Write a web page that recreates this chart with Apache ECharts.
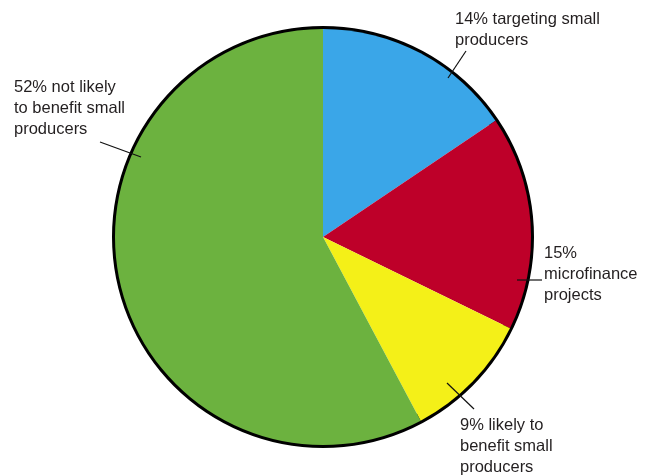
<!DOCTYPE html>
<html>
<head>
<meta charset="utf-8">
<script src="https://cdn.jsdelivr.net/npm/echarts@6/dist/echarts.min.js"></script>
<style>
  html, body { margin: 0; padding: 0; background: #fff; }
  #chart { width: 649px; height: 475px; }
</style>
</head>
<body>
<div id="chart"></div>
<script>
// Share of funding by project type (percent)
const categories = [
  '14% targeting small\nproducers',
  '15%\nmicrofinance\nprojects',
  '9% likely to\nbenefit small\nproducers',
  '52% not likely\nto benefit small\nproducers'
];
const values = [14, 15, 9, 52];
const colors = ['#3aa6e8', '#be0029', '#f4f018', '#6cb23f'];

// Label placement: text block top-left and leader line ends
const labelPlacement = [
  { x: 455, y: 9,   line: [[448, 78], [466, 51]] },
  { x: 544, y: 243, line: [[517, 280], [542, 280]] },
  { x: 460, y: 415, line: [[447, 383], [474, 409]] },
  { x: 14,  y: 77,  line: [[100, 142], [141, 157]] }
];

const chart = echarts.init(document.getElementById('chart'), null, { renderer: 'canvas' });

const CENTER = [323, 237];

const fillData = categories.map((name, i) => ({
  name: name,
  value: values[i],
  itemStyle: { color: colors[i] }
}));
const labelData = categories.map((name, i) => ({
  name: name,
  value: values[i]
}));

chart.setOption({
  animation: false,
  series: [
    {
      // outer black rim, drawn beneath the slices
      type: 'pie',
      z: 1,
      center: CENTER,
      radius: [200, 211],
      silent: true,
      data: [{ value: 1, itemStyle: { color: '#000' } }],
      label: { show: false },
      labelLine: { show: false },
      emphasis: { disabled: true }
    },
    {
      // coloured slices
      type: 'pie',
      z: 2,
      center: CENTER,
      radius: [0, 208],
      startAngle: 90,
      clockwise: true,
      silent: true,
      data: fillData,
      itemStyle: { borderWidth: 0 },
      label: { show: false },
      labelLine: { show: false },
      emphasis: { disabled: true }
    },
    {
      // labels with leader lines, on top of everything
      type: 'pie',
      z: 3,
      center: CENTER,
      radius: [0, 208],
      startAngle: 90,
      clockwise: true,
      silent: true,
      data: labelData,
      itemStyle: { color: 'rgba(0,0,0,0)', borderWidth: 0 },
      label: {
        show: true,
        position: 'outside',
        formatter: '{b}',
        color: '#231f20',
        fontFamily: 'Liberation Sans, Arial, sans-serif',
        fontSize: 16.5,
        lineHeight: 21,
        align: 'left',
        overflow: 'none',
        alignTo: 'none'
      },
      labelLine: {
        show: true,
        showAbove: true,
        lineStyle: { color: '#111', width: 1.2 }
      },
      labelLayout: function (params) {
        const p = labelPlacement[params.dataIndex];
        return {
          x: p.x,
          y: p.y,
          align: 'left',
          verticalAlign: 'top',
          labelLinePoints: p.line
        };
      },
      emphasis: { disabled: true }
    }
  ]
});
</script>
</body>
</html>
